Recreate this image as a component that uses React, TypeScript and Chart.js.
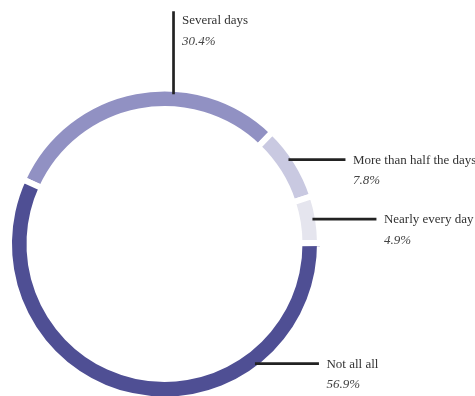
import React, { useEffect, useRef } from "react";
import { Chart, registerables } from "chart.js";

Chart.register(...registerables);

// ---- data ----
const CATEGORIES = ["Several days", "More than half the days", "Nearly every day", "Not all all"];
const VALUES = [30.4, 7.8, 4.9, 56.9];
const VALUE_LABELS = ["30.4%", "7.8%", "4.9%", "56.9%"];

// ---- style / layout (not data) ----
const COLORS = ["#9191C3", "#C9C9E1", "#E5E5EE", "#4F4F94"];
const LEADER_FRACTION = [0.63, 0.42, 0.48, 0.26]; // where along each slice the leader starts
const LEADER_DIR = ["up", "right", "right", "right"];
const LEADER_LENGTH = [83, 57, 64, 64];

const BORDER = 6;
const FONT = "13px 'Liberation Serif', 'Times New Roman', serif";
const FONT_IT = "italic 13px 'Liberation Serif', 'Times New Roman', serif";

const leaderPlugin = {
  id: "leaders",
  afterDatasetsDraw(chart: any) {
    const ctx = chart.ctx;
    const meta = chart.getDatasetMeta(0);
    meta.data.forEach((arc: any, i: number) => {
      const { x, y, startAngle, endAngle, outerRadius } = arc.getProps(
        ["x", "y", "startAngle", "endAngle", "outerRadius"],
        true
      );
      const a = startAngle + (endAngle - startAngle) * LEADER_FRACTION[i];
      const r = outerRadius - BORDER / 2 - 2.5;
      const ax = x + Math.cos(a) * r;
      const ay = y + Math.sin(a) * r;
      let ex: number, ey: number, tx: number, ty: number;
      if (LEADER_DIR[i] === "up") {
        ex = ax;
        ey = ay - LEADER_LENGTH[i];
        tx = ex + 8.5;
        ty = ey + 13;
      } else {
        ex = ax + LEADER_LENGTH[i];
        ey = ay;
        tx = ex + 7.5;
        ty = ey + 4;
      }
      ctx.save();
      ctx.strokeStyle = "#222222";
      ctx.lineWidth = 2.7;
      ctx.beginPath();
      ctx.moveTo(ax, ay);
      ctx.lineTo(ex, ey);
      ctx.stroke();
      ctx.textAlign = "left";
      ctx.textBaseline = "alphabetic";
      ctx.fillStyle = "#333333";
      ctx.font = FONT;
      ctx.fillText(CATEGORIES[i], tx, ty);
      ctx.fillStyle = "#444444";
      ctx.font = FONT_IT;
      ctx.fillText(VALUE_LABELS[i], tx, ty + 20.8);
      ctx.restore();
    });
  },
};

export default function App() {
  const ref = useRef<HTMLCanvasElement | null>(null);
  useEffect(() => {
    if (!ref.current) return;
    const chart = new Chart(ref.current, {
      type: "doughnut",
      data: {
        labels: CATEGORIES,
        datasets: [
          {
            data: VALUES,
            backgroundColor: COLORS,
            hoverBackgroundColor: COLORS,
            borderColor: "#ffffff",
            hoverBorderColor: "#ffffff",
            borderWidth: BORDER,
            hoverBorderWidth: BORDER,
            borderJoinStyle: "miter",
          } as any,
        ],
      },
      options: {
        responsive: false,
        animation: false,
        rotation: -65.5,
        cutout: 135,
        layout: { padding: { left: 6, right: 152, top: 85.5, bottom: 27.5 } },
        plugins: {
          legend: { display: false },
          tooltip: { enabled: false },
        },
        events: [],
      } as any,
      plugins: [leaderPlugin],
    });
    return () => chart.destroy();
  }, []);
  return (
    <div
      style={{
        position: "absolute",
        left: 0,
        top: 0,
        width: 475,
        height: 396,
        overflow: "hidden",
        background: "#ffffff",
      }}
    >
      <canvas ref={ref} width={475} height={430} style={{ display: "block" }} />
    </div>
  );
}
